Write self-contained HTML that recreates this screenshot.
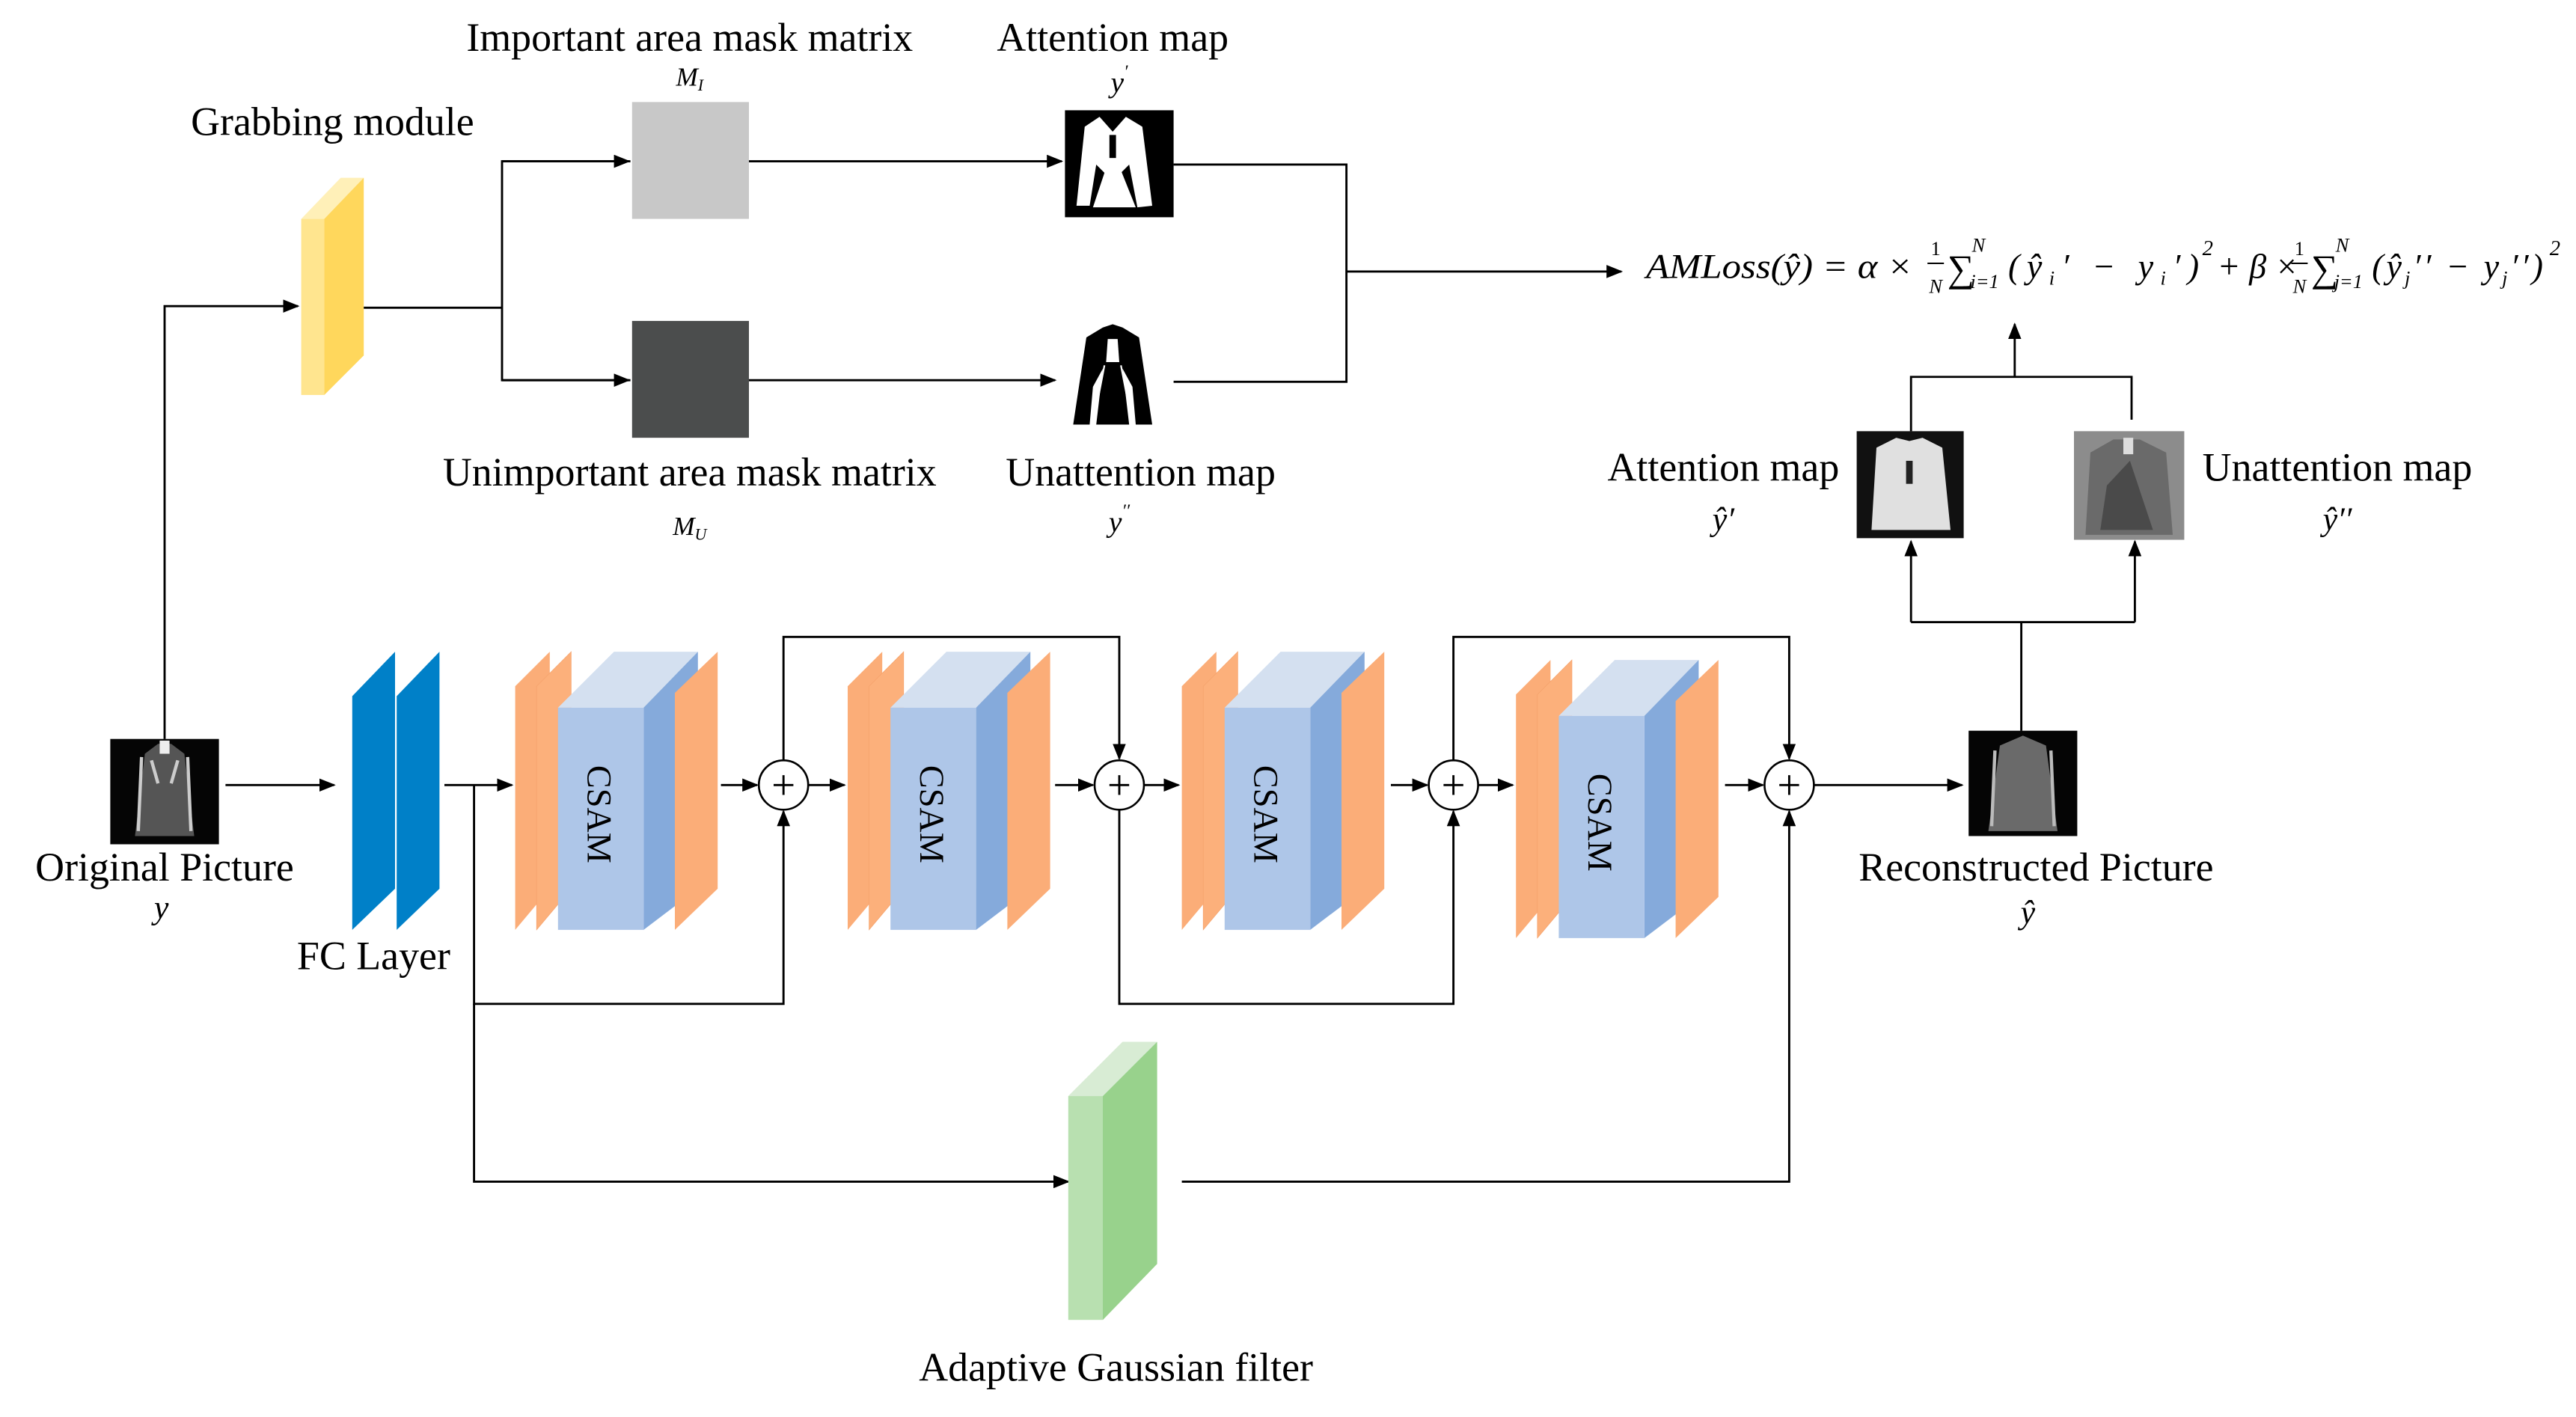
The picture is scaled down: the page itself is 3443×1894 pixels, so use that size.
<!DOCTYPE html>
<html><head><meta charset="utf-8"><style>
html,body{margin:0;padding:0;background:#fff;}
svg{display:block;}
text{font-family:"Liberation Serif",serif;fill:#000;}
</style></head><body>
<svg width="3443" height="1894" viewBox="0 0 1565 861" preserveAspectRatio="none" xmlns="http://www.w3.org/2000/svg">
<defs>
<marker id="a" markerWidth="10" markerHeight="8" refX="9" refY="4" orient="auto" markerUnits="userSpaceOnUse">
<path d="M0,0 L10,4 L0,8 Z" fill="#000"/>
</marker>
<g id="csam">
<polygon points="0,417 21,396 21,540 0,565" fill="#fbad78"/>
<polygon points="13,417 34,396 34,540 13,565" fill="#fcb07b" stroke="#f4a16a" stroke-width="0.3"/>
<polygon points="26,430 60,396 111,396 78,430" fill="#d4e0f0"/>
<polygon points="78,430 111,396 111,540 78,565" fill="#85aadb"/>
<rect x="26" y="430" width="52" height="135" fill="#aec6e8"/>
<polygon points="97,421 123,396 123,540 97,565" fill="#fbad78"/>
<text x="0" y="0" font-size="21" transform="translate(44,465) rotate(90)">CSAM</text>
</g>
<g id="plus">
<circle cx="0" cy="0" r="15" fill="#fff" stroke="#000" stroke-width="1.2"/>
<path d="M-6,0 H6 M0,-6 V6" stroke="#000" stroke-width="1.3"/>
</g>
</defs>

<text x="419" y="31" font-size="24.5" text-anchor="middle">Important area mask matrix</text>
<text x="419" y="52" font-size="16" font-style="italic" text-anchor="middle">M<tspan font-size="10" dy="3">I</tspan></text>
<text x="676" y="31" font-size="24.5" text-anchor="middle">Attention map</text>
<text x="680" y="56" font-size="18" font-style="italic" text-anchor="middle">y<tspan font-size="11" dy="-9">′</tspan></text>
<text x="202" y="82" font-size="24.5" text-anchor="middle">Grabbing module</text>
<text x="419" y="295" font-size="24.5" text-anchor="middle">Unimportant area mask matrix</text>
<text x="419" y="325" font-size="16" font-style="italic" text-anchor="middle">M<tspan font-size="10" dy="3">U</tspan></text>
<text x="693" y="295" font-size="24.5" text-anchor="middle">Unattention map</text>
<text x="680" y="323" font-size="18" font-style="italic" text-anchor="middle">y<tspan font-size="11" dy="-9">′′</tspan></text>

<rect x="384" y="62" width="71" height="71" fill="#c8c8c8"/>
<rect x="384" y="195" width="71" height="71" fill="#4b4d4d"/>

<rect x="647" y="67" width="66" height="65" fill="#000"/>
<path d="M659,77 L668,71 L676,80 L684,71 L694,77 L700,125 L691,126 L686,100 L676,110 L666,100 L662,125 L654,125 Z" fill="#fff"/>
<path d="M664,126 L674,96 L678,96 L690,126 Z" fill="#fff"/>
<rect x="674" y="82" width="4" height="14" fill="#000"/>
<path d="M660,205 L670,199 L676,197 L682,199 L692,205 L700,258 L690,258 L688,235 L682,224 L686,258 L666,258 L670,224 L664,235 L662,258 L652,258 Z" fill="#000"/>
<path d="M673,206 L679,206 L680,220 L672,220 Z" fill="#fff"/>
<path d="M671,222 L666,248 M681,222 L686,248" stroke="#fff" stroke-width="1"/>

<polygon points="183,133 197,133 221,108 207,108" fill="#fff0b8"/>
<rect x="183" y="133" width="14" height="107" fill="#ffe58f"/>
<polygon points="197,133 221,108 221,216 197,240" fill="#ffd75c"/>

<g stroke="#000" stroke-width="1.3" fill="none">
<polyline points="100,449 100,186 181,186" marker-end="url(#a)"/>
<polyline points="221,187 305,187"/>
<polyline points="383,98 305,98 305,231 383,231"/>
<line x1="305" y1="98" x2="382" y2="98" marker-end="url(#a)"/>
<line x1="305" y1="231" x2="382" y2="231" marker-end="url(#a)"/>
<line x1="455" y1="98" x2="645" y2="98" marker-end="url(#a)"/>
<line x1="455" y1="231" x2="641" y2="231" marker-end="url(#a)"/>
<polyline points="713,100 818,100 818,232 713,232"/>
<line x1="818" y1="165" x2="985" y2="165" marker-end="url(#a)"/>
</g>

<text x="1000" y="169" font-size="21" font-style="italic" textLength="162" lengthAdjust="spacingAndGlyphs">AMLoss(ŷ) = α ×</text>
<text x="1176" y="155" font-size="12" text-anchor="middle">1</text>
<line x1="1171" y1="160" x2="1181" y2="160" stroke="#000" stroke-width="0.9"/>
<text x="1176" y="178" font-size="12" font-style="italic" text-anchor="middle">N</text>
<text x="1183" y="171" font-size="23">∑</text>
<text x="1198" y="153" font-size="12" font-style="italic">N</text>
<text x="1197" y="175" font-size="12" font-style="italic">i=1</text>
<text x="1220" y="169" font-size="21" font-style="italic" textLength="116" lengthAdjust="spacing">(ŷ<tspan font-size="12" dy="4">i</tspan><tspan dy="-4">′ − y</tspan><tspan font-size="12" dy="4">i</tspan><tspan dy="-4">′)</tspan></text>
<text x="1338" y="155" font-size="13" font-style="italic">2</text>
<text x="1347" y="169" font-size="21" font-style="italic">+ β ×</text>
<text x="1397" y="155" font-size="12" text-anchor="middle">1</text>
<line x1="1392" y1="160" x2="1402" y2="160" stroke="#000" stroke-width="0.9"/>
<text x="1397" y="178" font-size="12" font-style="italic" text-anchor="middle">N</text>
<text x="1404" y="171" font-size="23">∑</text>
<text x="1419" y="153" font-size="12" font-style="italic">N</text>
<text x="1418" y="175" font-size="12" font-style="italic">j=1</text>
<text x="1441" y="169" font-size="21" font-style="italic" textLength="104" lengthAdjust="spacing">(ŷ<tspan font-size="12" dy="4">j</tspan><tspan dy="-4">′′ − y</tspan><tspan font-size="12" dy="4">j</tspan><tspan dy="-4">′′)</tspan></text>
<text x="1549" y="155" font-size="13" font-style="italic">2</text>

<g stroke="#000" stroke-width="1.3" fill="none">
<polyline points="1161,262 1161,229 1295,229 1295,255"/>
<line x1="1224" y1="229" x2="1224" y2="197" marker-end="url(#a)"/>
<polyline points="1228,444 1228,378"/>
<polyline points="1161,378 1297,378"/>
<line x1="1161" y1="378" x2="1161" y2="329" marker-end="url(#a)"/>
<line x1="1297" y1="378" x2="1297" y2="329" marker-end="url(#a)"/>
</g>
<rect x="1128" y="262" width="65" height="65" fill="#111"/>
<path d="M1140,272 L1152,266 L1160,268 L1168,266 L1180,272 L1185,322 L1137,322 Z" fill="#e0e0e0"/>
<rect x="1158" y="280" width="4" height="14" fill="#222"/>
<rect x="1260" y="262" width="67" height="66" fill="#8c8c8c"/>
<path d="M1270,275 L1284,267 L1300,267 L1316,275 L1320,325 L1267,325 Z" fill="#6a6a6a"/>
<path d="M1280,295 L1294,280 L1308,322 L1276,322 Z" fill="#4a4a4a"/>
<rect x="1290" y="266" width="6" height="10" fill="#ddd"/>
<text x="1047" y="292" font-size="24.5" text-anchor="middle">Attention map</text>
<text x="1047" y="322" font-size="20" font-style="italic" text-anchor="middle">ŷ′</text>
<text x="1420" y="292" font-size="24.5" text-anchor="middle">Unattention map</text>
<text x="1420" y="322" font-size="20" font-style="italic" text-anchor="middle">ŷ′′</text>

<rect x="67" y="449" width="66" height="64" fill="#050505"/>
<path d="M88,458 L96,452 L104,452 L112,458 L118,508 L82,508 Z" fill="#555"/>
<path d="M86,460 L84,505 M114,460 L116,505 M92,462 L96,476 M108,462 L104,476" stroke="#ccc" stroke-width="2"/>
<rect x="97" y="450" width="6" height="8" fill="#eee"/>
<text x="100" y="535" font-size="24.5" text-anchor="middle">Original Picture</text>
<text x="98" y="558" font-size="20" font-style="italic" text-anchor="middle">y</text>

<polygon points="214,423 240,396 240,540 214,565" fill="#0080c8"/>
<polygon points="241,423 267,396 267,540 241,565" fill="#0080c8"/>
<text x="227" y="589" font-size="24.5" text-anchor="middle">FC Layer</text>

<use href="#csam" x="313" y="0"/>
<use href="#csam" x="515" y="0"/>
<use href="#csam" x="718" y="0"/>
<use href="#csam" x="921" y="5"/>

<g stroke="#000" stroke-width="1.3" fill="none">
<line x1="137" y1="477" x2="203" y2="477" marker-end="url(#a)"/>
<line x1="270" y1="477" x2="311" y2="477" marker-end="url(#a)"/>
<line x1="438" y1="477" x2="460" y2="477" marker-end="url(#a)"/>
<line x1="491" y1="477" x2="513" y2="477" marker-end="url(#a)"/>
<line x1="641" y1="477" x2="664" y2="477" marker-end="url(#a)"/>
<line x1="695" y1="477" x2="716" y2="477" marker-end="url(#a)"/>
<line x1="845" y1="477" x2="867" y2="477" marker-end="url(#a)"/>
<line x1="898" y1="477" x2="919" y2="477" marker-end="url(#a)"/>
<line x1="1048" y1="477" x2="1071" y2="477" marker-end="url(#a)"/>
<line x1="1102" y1="477" x2="1192" y2="477" marker-end="url(#a)"/>
<polyline points="476,462 476,387 680,387 680,461" marker-end="url(#a)"/>
<polyline points="288,477 288,610 476,610 476,493" marker-end="url(#a)"/>
<polyline points="680,492 680,610 883,610 883,493" marker-end="url(#a)"/>
<polyline points="883,462 883,387 1087,387 1087,461" marker-end="url(#a)"/>
<polyline points="288,610 288,718 649,718" marker-end="url(#a)"/>
<polyline points="718,718 1087,718 1087,493" marker-end="url(#a)"/>
</g>
<use href="#plus" x="476" y="477"/>
<use href="#plus" x="680" y="477"/>
<use href="#plus" x="883" y="477"/>
<use href="#plus" x="1087" y="477"/>

<polygon points="649,666 670,666 703,633 682,633" fill="#d8ecd4"/>
<rect x="649" y="666" width="21" height="136" fill="#b8e0b0"/>
<polygon points="670,666 703,633 703,768 670,802" fill="#98d28c"/>
<text x="678" y="839" font-size="24.5" text-anchor="middle">Adaptive Gaussian filter</text>

<rect x="1196" y="444" width="66" height="64" fill="#050505"/>
<path d="M1215,453 L1229,447 L1243,453 L1250,505 L1208,505 Z" fill="#6a6a6a"/>
<path d="M1212,456 L1210,502 M1246,456 L1248,502" stroke="#bbb" stroke-width="2"/>
<text x="1237" y="535" font-size="24.5" text-anchor="middle">Reconstructed Picture</text>
<text x="1232" y="561" font-size="20" font-style="italic" text-anchor="middle">ŷ</text>
</svg>
</body></html>
